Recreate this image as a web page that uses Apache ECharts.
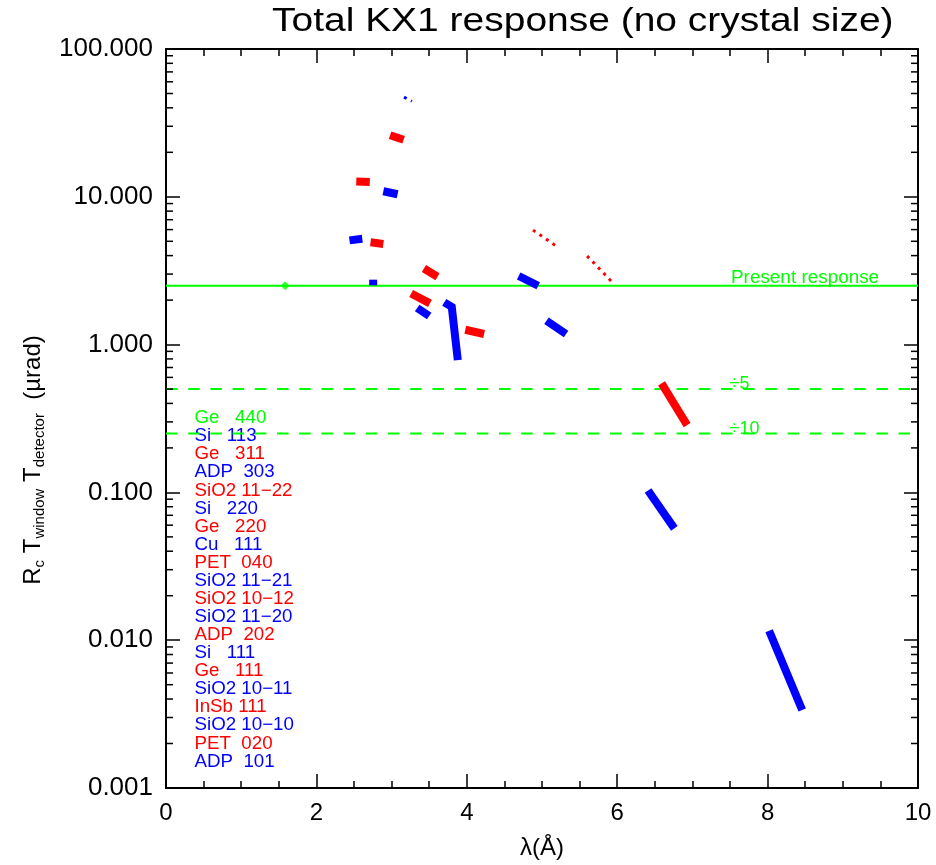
<!DOCTYPE html>
<html><head><meta charset="utf-8">
<script src="https://cdn.jsdelivr.net/npm/echarts@6/dist/echarts.min.js"></script>
<style>html,body{margin:0;padding:0;background:#fff}#c{width:936px;height:865px}</style>
</head><body><div id="c"></div>
<script>
// ---------------- data ----------------
const xMin = 0, xMax = 10, xStep = 2;
const yMin = 0.001, yMax = 100;
const yDecades = [0.001, 0.01, 0.1, 1, 10];
const yMinorMultipliers = [2, 3, 4, 5, 6, 7, 8, 9];

const presentResponse = 2.5;
const responseOver5 = 0.5;
const responseOver10 = 0.25;
const ge440 = [[1.585, 2.5]];

// blue crystals
const si113      = [[2.44, 5.07], [2.61, 5.20]];
const adp303     = [[2.755, 2.75], [2.755, 2.52]];
const si220      = [[2.89, 10.9], [3.08, 10.4]];
const cu111      = [[3.165, 47.3], [3.27, 44.3]];
const sio2_1121  = [[3.34, 1.77], [3.50, 1.56]];
const sio2_1120  = [[3.70, 1.93], [3.80, 1.80], [3.88, 0.785]];
const si111      = [[4.69, 2.91], [4.95, 2.50]];
const sio2_1011  = [[5.06, 1.45], [5.32, 1.18]];
const sio2_1010  = [[6.41, 0.103], [6.76, 0.0571]];
const adp101     = [[8.02, 0.0116], [8.46, 0.00337]];
// red crystals
const ge311      = [[2.53, 12.7], [2.71, 12.6]];
const sio2_1122  = [[2.72, 4.92], [2.89, 4.79]];
const ge220      = [[2.98, 26.1], [3.16, 24.3]];
const pet040     = [[3.26, 2.22], [3.51, 1.90]];
const sio2_1012  = [[3.43, 3.27], [3.61, 2.88]];
const adp202     = [[3.98, 1.26], [4.23, 1.18]];
const ge111      = [[4.88, 5.95], [5.22, 4.53]];
const insb111    = [[5.60, 3.98], [5.95, 2.59]];
const pet020     = [[6.59, 0.547], [6.93, 0.285]];

const legendLabels = ['Ge   440', 'Si   113', 'Ge   311', 'ADP  303', 'SiO2 11\u221222', 'Si   220', 'Ge   220',
  'Cu   111', 'PET  040', 'SiO2 11\u221221', 'SiO2 10\u221212', 'SiO2 11\u221220', 'ADP  202', 'Si   111', 'Ge   111',
  'SiO2 10\u221211', 'InSb 111', 'SiO2 10\u221210', 'PET  020', 'ADP  101'];

const titleText = 'Total KX1 response (no crystal size)';
const xName = '\u03bb(\u00c5)';

// ---------------- rendering ----------------
const RED = '#ff0000', BLUE = '#0000ff', GREEN = '#00ff00';
const FONT = 'Liberation Sans, Arial, Helvetica, sans-serif';
const legendColors = [GREEN].concat(legendLabels.slice(1).map((_, i) => i % 2 === 0 ? BLUE : RED));

const minorValues = [];
yDecades.forEach(d => yMinorMultipliers.forEach(m => minorValues.push(+(d * m).toPrecision(3))));

function seg(name, data, color, dotted) {
  return {
    type: 'line', name, data, showSymbol: false, symbol: 'none', silent: true, z: 3,
    lineStyle: dotted ? { color, width: 3, type: [3, 4.9], cap: 'butt' }
                      : { color, width: 8, cap: 'butt', join: 'miter' }
  };
}
function hline(name, value, dashed) {
  return {
    type: 'line', name, data: [[xMin, value], [xMax, value]], showSymbol: false, symbol: 'none', silent: true, z: 2,
    lineStyle: { color: GREEN, width: 2, type: dashed ? [11.5, 10.7] : 'solid' }
  };
}

const axisLine = { show: true, onZero: false, lineStyle: { color: '#000', width: 2 } };
const axisTick = { show: true, inside: true, length: 14, lineStyle: { color: '#000', width: 1.5 } };
const minorTick = { show: true, splitNumber: 4, length: 7, lineStyle: { color: '#000', width: 1.5 } };

const chart = echarts.init(document.getElementById('c'), null, { renderer: 'canvas' });
const option = {
  animation: false,
  backgroundColor: '#fff',
  grid: { left: 166, right: 18, top: 49, bottom: 69 },
  xAxis: [
    { type: 'value', position: 'bottom', min: xMin, max: xMax, interval: xStep, axisLine, axisTick, minorTick,
      splitLine: { show: false }, minorSplitLine: { show: false },
      axisLabel: { color: '#000', fontSize: 24, fontFamily: FONT, margin: 13 },
      name: xName, nameLocation: 'middle', nameGap: 48,
      nameTextStyle: { color: '#000', fontSize: 24, fontFamily: FONT } },
    { type: 'value', position: 'top', min: xMin, max: xMax, interval: xStep, axisLine, axisTick, minorTick,
      splitLine: { show: false }, axisLabel: { show: false } }
  ],
  yAxis: [
    { type: 'log', logBase: 10, position: 'left', min: yMin, max: yMax, axisLine, axisTick,
      splitLine: { show: false },
      axisLabel: { color: '#000', fontSize: 26, fontFamily: FONT, margin: 13, formatter: v => (+v).toFixed(3) } },
    { type: 'log', logBase: 10, position: 'right', min: yMin, max: yMax, axisLine, axisTick,
      splitLine: { show: false }, axisLabel: { show: false } }
  ],
  series: [
    hline('Present response', presentResponse, false),
    hline('Present response / 5', responseOver5, true),
    hline('Present response / 10', responseOver10, true),
    seg('Si 113', si113, BLUE), seg('ADP 303', adp303, BLUE), seg('Si 220', si220, BLUE),
    seg('Cu 111', cu111, BLUE, true), seg('SiO2 11-21', sio2_1121, BLUE), seg('SiO2 11-20', sio2_1120, BLUE),
    seg('Si 111', si111, BLUE), seg('SiO2 10-11', sio2_1011, BLUE), seg('SiO2 10-10', sio2_1010, BLUE),
    seg('ADP 101', adp101, BLUE),
    seg('Ge 311', ge311, RED), seg('SiO2 11-22', sio2_1122, RED), seg('Ge 220', ge220, RED),
    seg('PET 040', pet040, RED), seg('SiO2 10-12', sio2_1012, RED), seg('ADP 202', adp202, RED),
    seg('Ge 111', ge111, RED, true), seg('InSb 111', insb111, RED, true), seg('PET 020', pet020, RED),
    { type: 'scatter', name: 'Ge 440', data: ge440, symbol: 'diamond', symbolSize: 9, itemStyle: { color: GREEN }, z: 4, silent: true },
    { type: 'custom', name: 'minor y ticks', silent: true, z: 5,
      data: minorValues.map(v => [xMin, v]),
      renderItem: (params, api) => {
        const v = api.value(1);
        const pl = api.coord([xMin, v]);
        const pr = api.coord([xMax, v]);
        const st = { stroke: '#000', lineWidth: 1.5 };
        return { type: 'group', children: [
          { type: 'line', shape: { x1: pl[0], y1: pl[1], x2: pl[0] + 7, y2: pl[1] }, style: st },
          { type: 'line', shape: { x1: pr[0], y1: pr[1], x2: pr[0] - 7, y2: pr[1] }, style: st }
        ] };
      } }
  ],
  graphic: [
    { type: 'text', x: 272, y: 22, scaleX: 1.146, style: { text: titleText, font: '34px ' + FONT, fill: '#000', align: 'left', verticalAlign: 'middle' } },
    { type: 'text', x: 33, y: 460, rotation: Math.PI / 2,
      style: { text: '{m|R}{s|c}{m| T}{s|window}{m| T}{s|detector}{m|  (\u00b5rad)}', align: 'center', verticalAlign: 'middle', fill: '#000',
        rich: { m: { fontSize: 24, lineHeight: 28, fontFamily: FONT, fill: '#000' },
                s: { fontSize: 15, lineHeight: 15, fontFamily: FONT, fill: '#000', verticalAlign: 'bottom' } } } },
    { type: 'text', x: 731, y: 278, scaleX: 1.05, style: { text: 'Present response', font: '18px ' + FONT, fill: GREEN, align: 'left', verticalAlign: 'middle' } },
    { type: 'text', x: 729.5, y: 384.5, style: { text: '\u00f75', font: '18px ' + FONT, fill: GREEN, align: 'left', verticalAlign: 'middle' } },
    { type: 'text', x: 729.5, y: 429.5, style: { text: '\u00f710', font: '18px ' + FONT, fill: GREEN, align: 'left', verticalAlign: 'middle' } }
  ].concat(legendLabels.map((t, i) => ({
    type: 'text', x: 194.5, y: 418.3 + i * 18.07, scaleX: 1.04,
    style: { text: t, font: '18px ' + FONT, fill: legendColors[i], align: 'left', verticalAlign: 'middle' }
  })))
};
chart.setOption(option);
</script>
</body></html>
